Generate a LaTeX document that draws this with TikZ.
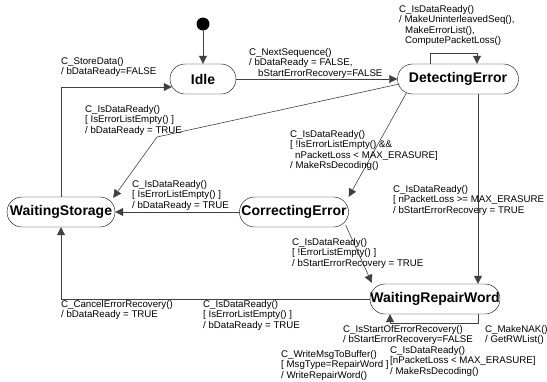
\documentclass[tikz,border=0pt]{standalone}
\usepackage{fontspec}
\setmainfont{Liberation Sans}
\usetikzlibrary{arrows.meta,shapes,calc}

\tikzset{
  state/.style={draw, rounded corners=15pt, minimum height=30pt, inner sep=0pt,
    font=\fontsize{14}{14}\selectfont\bfseries},
  trans/.style={draw=black!75, line width=0.6pt, -{Triangle[length=8pt,width=8pt]}},
  lbl/.style={anchor=north west, align=left, inner sep=0pt,
    font=\fontsize{9.7}{10.4}\selectfont},
}

\begin{document}
\begin{tikzpicture}[x=1pt,y=-1pt]
    \useasboundingbox (0,0) rectangle (547,381);
    \def\states{
      \node[circle, fill=black, minimum size=13pt, inner sep=0pt] (init) at (203,24) {};
      \node[state, minimum width=66pt]  (idle)    at (203,79)  {Idle};
      \node[state, minimum width=121pt] (detect)  at (458,79)  {DetectingError};
      \node[state, minimum width=108pt] (wstore)  at (61,212)  {WaitingStorage};
      \node[state, minimum width=109pt] (correct) at (294,212) {CorrectingError};
      \node[state, minimum width=130pt] (wrepair) at (435,299) {WaitingRepairWord};
    }
    \def\showTransitions{
      \draw[trans] (init) -- (idle);
      % Draw the straight transitions
      \draw[trans] (idle) -- (detect);
      \draw[trans] (correct) -- (wstore);
      \draw[trans] (wstore.north) |- ($(idle.west)+(2,8)$);
      \draw[trans] (wrepair.west) -| (wstore.south);
      \draw[trans] ($(detect.west)+(2,5)$) -- (bendA) -- ($(wstore.north east)+(-2,1)$);
      \draw[trans] ($(detect.south west)+(9,-1)$) -- (correct.north east);
      \draw[trans] (dvert) -- (dvert |- wrepair.north);
      \draw[trans] ($(correct.south east)+(-3,-2)$) -- ($(wrepair.north west)+(2,-1)$);
      % Draw self loops
      \draw[trans] ($(detect.north)+(-28,0)$) -- ++(0,-11) -| ($(detect.north)+(19,0)$);
      \draw[trans] ($(wrepair.south)+(43,0)$) -- ++(0,9) -| ($(wrepair.south)+(-45,0)$);
    }
    \def\showLabels{
      \node[lbl] (lLoopD) at (399,5) {C\_IsDataReady()\\/ MakeUninterleavedSeq(),\\
        \hspace*{6pt}MakeErrorList(),\\\hspace*{6pt}ComputePacketLoss()};
      \node[lbl] (lNext) at (249,48) {C\_NextSequence()\\/ bDataReady = FALSE,\\
        \hspace*{9pt}bStartErrorRecovery=FALSE};
      \node[lbl] (lStore) at (61,57) {C\_StoreData()\\/ bDataReady=FALSE};
      \node[lbl] (lDetWs) at (85,105) {C\_IsDataReady()\\{[} IsErrorListEmpty() ]\\/ bDataReady = TRUE};
      \node[lbl] (lCorWs) at (132,180) {C\_IsDataReady()\\{[} IsErrorListEmpty() ]\\/ bDataReady = TRUE};
      \node[lbl] (lDetCor) at (290,130) {C\_IsDataReady()\\{[} !IsErrorListEmpty() \&\&\\
        \hspace*{5pt}nPacketLoss < MAX\_ERASURE]\\/ MakeRsDecoding()};
      \node[lbl] (lDetWr) at (393,185) {C\_IsDataReady()\\{[} nPacketLoss >= MAX\_ERASURE\\/ bStartErrorRecovery = TRUE};
      \node[lbl] (lCorWr) at (292,238) {C\_IsDataReady()\\{[} !ErrorListEmpty() ]\\/ bStartErrorRecovery = TRUE};
      \node[lbl] (lCancel) at (61,300) {C\_CancelErrorRecovery()\\/ bDataReady = TRUE};
      \node[lbl] (lWrWs) at (203,300) {C\_IsDataReady()\\{[} IsErrorListEmpty() ]\\/ bDataReady = TRUE};
      \node[lbl] (lStart) at (343,325) {C\_IsStartOfErrorRecovery()\\/ bStartErrorRecovery=FALSE};
      \node[lbl] (lNak) at (485,325) {C\_MakeNAK()\\/ GetRWList()};
      \node[lbl] (lWrite) at (281,350) {C\_WriteMsgToBuffer()\\{[} MsgType=RepairWord ]\\/ WriteRepairWord()};
      \node[lbl] (lReady) at (390,346) {C\_IsDataReady()\\{[}nPacketLoss < MAX\_ERASURE]\\/ MakeRsDecoding()};
    }
    \states
    \coordinate (bendA) at (157,137);
    \coordinate (dvert) at ($(detect.south)+(20,0)$);
    \showTransitions
    \showLabels
\end{tikzpicture}
\end{document}
